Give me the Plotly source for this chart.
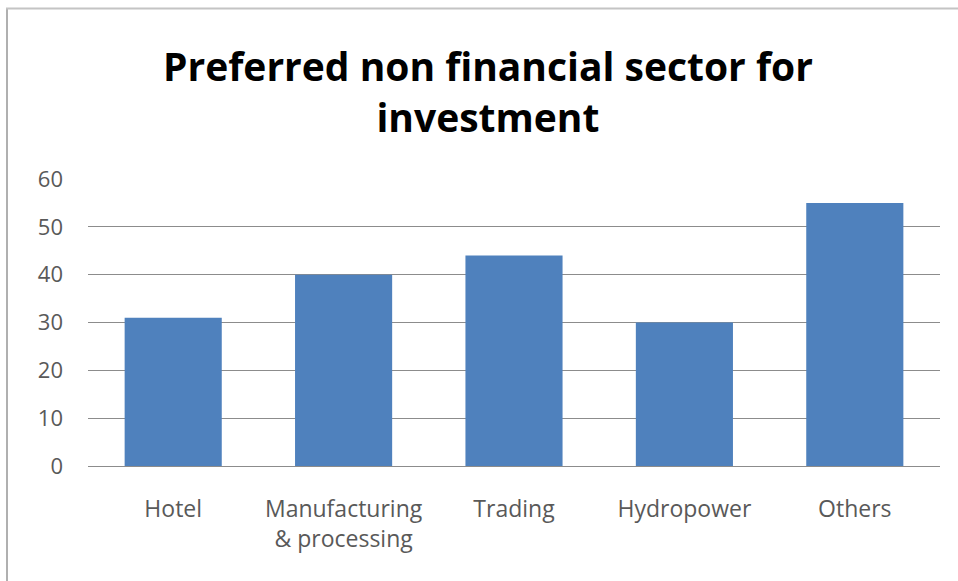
import plotly.graph_objects as go

# Sector preference counts
categories = ["Hotel", "Manufacturing<br>& processing", "Trading", "Hydropower", "Others"]
values = [31, 40, 44, 30, 55]
y_ticks = [0, 10, 20, 30, 40, 50, 60]

W, H = 958, 581
M_L, M_R, M_T, M_B = 88, 18, 179, 115
plot_w = W - M_L - M_R
plot_h = H - M_T - M_B

def px_to_paper_x(px):
    return (px - M_L) / plot_w

def px_to_paper_y(py):
    return (H - M_B - py) / plot_h

fig = go.Figure(
    go.Bar(
        x=categories,
        y=values,
        marker=dict(color="#4F81BD", line=dict(width=0)),
        hoverinfo="x+y",
    )
)

fig.update_layout(
    width=W,
    height=H,
    margin=dict(l=M_L, r=M_R, t=M_T, b=M_B),
    paper_bgcolor="white",
    plot_bgcolor="white",
    bargap=0.43,
    showlegend=False,
    font=dict(family="'Open Sans', Lato, sans-serif", color="#595959"),
    xaxis=dict(
        showgrid=False,
        showline=False,
        ticks="",
        tickfont=dict(size=23, color="#595959"),
        ticklabelstandoff=27,
    ),
    yaxis=dict(
        range=[0, 60],
        tickvals=y_ticks,
        showgrid=True,
        gridcolor="#8c8c8c",
        gridwidth=1,
        zeroline=True,
        zerolinecolor="#8c8c8c",
        zerolinewidth=1,
        showline=False,
        ticks="",
        tickfont=dict(size=22, color="#595959"),
        ticklabelstandoff=24,
    ),
    annotations=[
        dict(
            text="<b>Preferred non financial sector for<br>investment</b>",
            xref="paper", yref="paper",
            x=px_to_paper_x(488), y=px_to_paper_y(37),
            xanchor="center", yanchor="top",
            showarrow=False,
            align="center",
            font=dict(family="'Open Sans', sans-serif", size=39, color="#000000"),
        )
    ],
    shapes=[
        # chart frame: left and top edges
        dict(type="line", xref="paper", yref="paper",
             x0=px_to_paper_x(7), x1=px_to_paper_x(7),
             y0=px_to_paper_y(8), y1=px_to_paper_y(H),
             line=dict(color="#b0b0b0", width=2)),
        dict(type="line", xref="paper", yref="paper",
             x0=px_to_paper_x(6), x1=px_to_paper_x(W),
             y0=px_to_paper_y(8.5), y1=px_to_paper_y(8.5),
             line=dict(color="#c4c4c4", width=2)),
    ],
)

fig.write_html("out.html")
